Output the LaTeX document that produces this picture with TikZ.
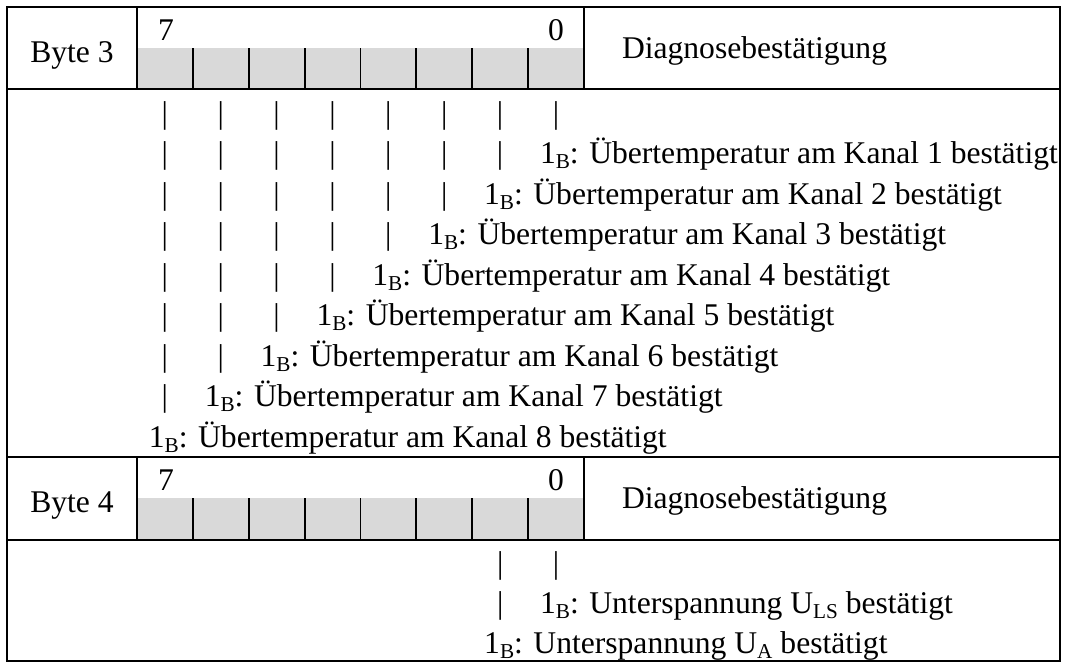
\documentclass[tikz,border=0pt]{standalone}
\usepackage{fontspec}
\setmainfont{Liberation Serif}
\definecolor{cellgray}{HTML}{D9D9D9}
\newcommand{\subtxt}[1]{\raisebox{-0.17em}{\fontsize{10.6}{12}\selectfont #1}}
\begin{document}
\begin{tikzpicture}[x=0.5pt,y=-0.5pt,
  txt/.style={inner sep=0pt, outer sep=0pt, font=\fontsize{15.8}{19}\selectfont},
  frame/.style={line width=1pt},
  rule/.style={line width=0.9pt},
  divider/.style={line width=0.9pt}]
\useasboundingbox (0,0) rectangle (1067,664);

% byte rows: gray bit cells
\foreach \top in {7,457} {
  \fill[cellgray] (137,\top+41) rectangle (584,\top+82);
  \foreach \k in {1,...,7}
    \draw[divider] ({137+55.875*\k},\top+41) -- ({137+55.875*\k},\top+82);
  \draw[rule] (137,\top) -- (137,\top+82);
  \draw[rule] (584,\top) -- (584,\top+82);
}

% horizontal rules
\draw[rule] (7,89) -- (1060,89);
\draw[rule] (7,457) -- (1060,457);
\draw[rule] (7,540) -- (1060,540);

% outer frame
\draw[frame] (7,7) rectangle (1060,661);

% byte 3 header
\node[txt,anchor=base] (b3) at (72,62) {Byte 3};
\node[txt,anchor=base west] (b3h) at (158,40) {7};
\node[txt,anchor=base east] (b3l) at (564,40) {0};
\node[txt,anchor=base west] (b3d) at (622,58) {Diagnosebestätigung};

% byte 4 header
\node[txt,anchor=base] (b4) at (72,512) {Byte 4};
\node[txt,anchor=base west] (b4h) at (158,490) {7};
\node[txt,anchor=base east] (b4l) at (564,490) {0};
\node[txt,anchor=base west] (b4d) at (622,508) {Diagnosebestätigung};

% byte 3 pipes
\foreach \r in {0,...,7} {
  \pgfmathsetmacro\yb{123+40.5*\r}
  \pgfmathtruncatemacro\last{7-\r}
  \foreach \c in {0,...,\last}
    \node[txt,anchor=base] (pa-\r-\c) at ({164.9+55.875*\c},\yb) {|};
}

% byte 3 descriptions
\foreach \i in {1,...,8} {
  \pgfmathsetmacro\yb{123+40.5*\i}
  \pgfmathsetmacro\xs{164.9+55.875*(8-\i)-16}
  \node[txt,anchor=base west] (k\i) at (\xs,\yb)
    {1\subtxt{B}: Übertemperatur am Kanal \i\ bestätigt};
}

% byte 4 pipes
\node[txt,anchor=base] (pb-0-6) at (500.2,573) {|};
\node[txt,anchor=base] (pb-0-7) at (556.1,573) {|};
\node[txt,anchor=base] (pb-1-6) at (500.2,613) {|};

% byte 4 descriptions
\node[txt,anchor=base west] (uls) at (540.1,613)
  {1\subtxt{B}: Unterspannung U\subtxt{LS} bestätigt};
\node[txt,anchor=base west] (ua) at (484.2,653)
  {1\subtxt{B}: Unterspannung U\subtxt{A} bestätigt};
\end{tikzpicture}
\end{document}
